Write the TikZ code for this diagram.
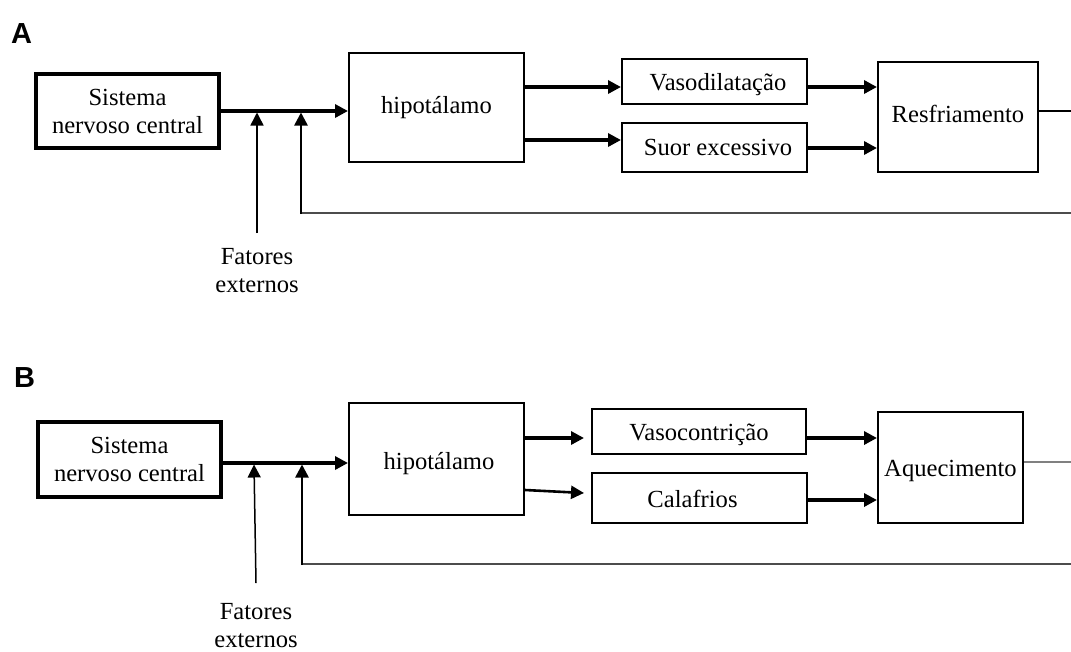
\documentclass[tikz,border=0pt]{standalone}
\usepackage{fontspec}
\setmainfont{Liberation Serif}
\newfontfamily\labelfont{Liberation Sans}
\usetikzlibrary{arrows.meta}
\begin{document}
\begin{tikzpicture}[x=1pt,y=-1pt,
  box/.style={draw, line width=2pt, inner sep=0pt, align=center, font=\fontsize{24.6}{28}\selectfont},
  bl/.style={text height=#1, text depth=0pt},
  sncbox/.style={box, line width=3.3pt},
  txt/.style={inner sep=0pt, align=center, font=\fontsize{24.6}{28}\selectfont},
  panel/.style={inner sep=0pt, anchor=base west, font=\labelfont\bfseries\fontsize{29}{29}\selectfont},
  tip/.style={-{Triangle[length=13pt,width=13pt]}},
  thickarr/.style={tip, line width=3.5pt},
  extarr/.style={tip, line width=1.5pt},
  fbarr/.style={tip, line width=2.5pt},
  fbline/.style={line width=2pt, black!70},
  outline/.style={line width=2pt},
  outlinegray/.style={line width=1.6pt, black!50}
]
\useasboundingbox (0,0) rectangle (1071,651);

% ---------------- Panel A ----------------
\node[panel] (lblA) at (11,43) {A};
\node[sncbox, minimum width=183pt, minimum height=74pt] (sncA) at (127.5,111) {Sistema\\nervoso central};
\node[box, bl=11pt, minimum width=175pt, minimum height=109pt] (hypA) at (436.5,107.5) {hipotálamo};
\node[box, bl=17pt, minimum width=185pt, minimum height=45pt] (vasA) at (714.5,81.5) {\hspace*{7pt}Vasodilatação};
\node[box, bl=15pt, minimum width=185pt, minimum height=49pt] (suoA) at (714.5,147.5) {\hspace*{7pt}Suor excessivo};
\node[box, bl=10pt, minimum width=160pt, minimum height=110pt] (resA) at (958,117) {Resfriamento};
\node[txt, anchor=north] (fatA) at (257,248) {Fatores\\externos};

\coordinate (jA1) at (257,112.5);
\coordinate (jA2) at (301,112.5);
\coordinate (outA) at (1071,111);
\coordinate (fbA) at (1071,213);
\coordinate (cA) at (301,213);
\coordinate (yA1) at (0,87);
\coordinate (yA2) at (0,140);
\coordinate (yA3) at (0,148);

\draw[thickarr] (sncA.east) -- (hypA.west |- sncA.east);
\draw[thickarr] (hypA.east |- yA1) -- (vasA.west |- yA1);
\draw[thickarr] (hypA.east |- yA2) -- (suoA.west |- yA2);
\draw[thickarr] (vasA.east |- yA1) -- (resA.west |- yA1);
\draw[thickarr] (suoA.east |- yA3) -- (resA.west |- yA3);
\draw[outline] (resA.east |- outA) -- (outA);
\draw[extarr] ([yshift=15pt]fatA.north) -- (jA1);
\draw[fbline] (fbA) -- (cA);
\draw[fbarr] ([yshift=-1pt]cA) -- (jA2);

% ---------------- Panel B ----------------
\node[panel] (lblB) at (14,387) {B};
\node[sncbox, minimum width=183pt, minimum height=75pt] (sncB) at (129.5,459.5) {Sistema\\nervoso central};
\node[box, bl=20pt, minimum width=175pt, minimum height=112pt] (hypB) at (436.5,459) {\hspace*{5pt}hipotálamo};
\node[box, bl=17pt, minimum width=214pt, minimum height=45pt] (vcB) at (699,431.5) {Vasocontrição};
\node[box, bl=18pt, minimum width=215pt, minimum height=50pt] (calB) at (699.5,498) {Calafrios\hspace*{14pt}};
\node[box, bl=17pt, minimum width=145pt, minimum height=111pt] (aqB) at (950.5,467.5) {Aquecimento};
\node[txt, anchor=north] (fatB) at (256,603) {Fatores\\externos};

\coordinate (mB) at (0,463);
\coordinate (jB1) at (254,464.5);
\coordinate (jB2) at (302,464.5);
\coordinate (outB) at (1071,462);
\coordinate (fbB) at (1071,564);
\coordinate (cB) at (302,564);
\coordinate (yB1) at (0,438);
\coordinate (yB2a) at (0,490);
\coordinate (yB2b) at (0,493);
\coordinate (yB3) at (0,500);

\draw[thickarr] (sncB.east |- mB) -- (hypB.west |- mB);
\draw[thickarr] (hypB.east |- yB1) -- ([xshift=-7pt]vcB.west |- yB1);
\draw[tip, line width=2.6pt] (hypB.east |- yB2a) -- ([xshift=-7pt]calB.west |- yB2b);
\draw[thickarr] (vcB.east |- yB1) -- (aqB.west |- yB1);
\draw[thickarr] (calB.east |- yB3) -- (aqB.west |- yB3);
\draw[outlinegray] (aqB.east |- outB) -- (outB);
\draw[extarr] ([yshift=20pt]fatB.north) -- (jB1);
\draw[fbline] (fbB) -- (cB);
\draw[fbarr] ([yshift=-1pt]cB) -- (jB2);
\end{tikzpicture}
\end{document}
